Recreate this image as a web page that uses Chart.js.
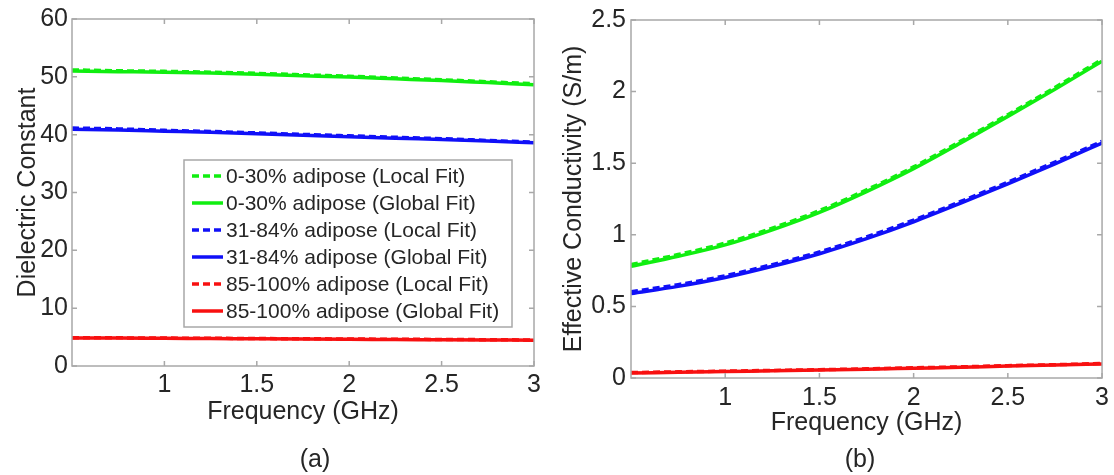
<!DOCTYPE html>
<html>
<head>
<meta charset="utf-8">
<script src="https://cdn.jsdelivr.net/npm/chart.js@4.4.1/dist/chart.umd.min.js"></script>
<style>
  body { margin: 0; background: #fff; }
  #wrap { position: relative; width: 1114px; height: 475px; overflow: hidden; font-family: "Liberation Sans", Arial, sans-serif; color: #262626; }
  canvas { position: absolute; top: 0; }
  #chartA { left: 0; }
  #chartB { left: 548px; }
  .cap { position: absolute; top: 444px; font-size: 25px; width: 60px; text-align: center; }
</style>
</head>
<body>
<div id="wrap">
  <canvas id="chartA" width="548" height="475"></canvas>
  <canvas id="chartB" width="566" height="475"></canvas>
  <div class="cap" style="left:285px">(a)</div>
  <div class="cap" style="left:830px">(b)</div>
</div>
<script>
// frequency points (GHz)
const freqs = [0.5, 0.75, 1, 1.25, 1.5, 1.75, 2, 2.25, 2.5, 2.75, 3];
const xTicks = [1, 1.5, 2, 2.5, 3];

const seriesLabels = [
  "0-30% adipose (Local Fit)",
  "0-30% adipose (Global Fit)",
  "31-84% adipose (Local Fit)",
  "31-84% adipose (Global Fit)",
  "85-100% adipose (Local Fit)",
  "85-100% adipose (Global Fit)"
];

// (a) dielectric constant
const epsLowLocal   = [51.2, 51.05, 50.95, 50.8, 50.6, 50.35, 50.1, 49.8, 49.5, 49.15, 48.8];
const epsLowGlobal  = [51.0, 50.9, 50.8, 50.65, 50.45, 50.2, 49.95, 49.65, 49.35, 49.0, 48.65];
const epsMidLocal   = [41.15, 41.0, 40.75, 40.55, 40.3, 40.05, 39.8, 39.55, 39.3, 39.0, 38.7];
const epsMidGlobal  = [40.95, 40.8, 40.6, 40.4, 40.15, 39.9, 39.65, 39.4, 39.15, 38.9, 38.6];
const epsHighLocal  = [4.9, 4.87, 4.83, 4.79, 4.75, 4.71, 4.67, 4.63, 4.59, 4.55, 4.5];
const epsHighGlobal = [4.85, 4.82, 4.78, 4.74, 4.7, 4.66, 4.62, 4.58, 4.54, 4.5, 4.46];

// (b) effective conductivity (S/m)
const sigLowLocal   = [0.792, 0.862, 0.942, 1.047, 1.169, 1.314, 1.474, 1.654, 1.839, 2.029, 2.224];
const sigLowGlobal  = [0.78, 0.85, 0.93, 1.035, 1.157, 1.302, 1.462, 1.642, 1.827, 2.017, 2.212];
const sigMidLocal   = [0.602, 0.652, 0.714, 0.792, 0.88, 0.985, 1.103, 1.233, 1.368, 1.508, 1.653];
const sigMidGlobal  = [0.59, 0.64, 0.702, 0.78, 0.868, 0.973, 1.091, 1.221, 1.356, 1.496, 1.641];
const sigHighLocal  = [0.038, 0.043, 0.048, 0.053, 0.058, 0.064, 0.071, 0.078, 0.086, 0.093, 0.101];
const sigHighGlobal = [0.035, 0.04, 0.045, 0.05, 0.055, 0.061, 0.068, 0.075, 0.083, 0.09, 0.098];

const colors = ["#10ee10", "#10ee10", "#1010f8", "#1010f8", "#f81010", "#f81010"];
const FONT = "'Liberation Sans', Arial, sans-serif";
const TEXT = "#262626";

function makeDatasets(list) {
  return list.map((vals, i) => ({
    label: seriesLabels[i],
    data: vals.map((v, j) => ({ x: freqs[j], y: v })),
    borderColor: colors[i],
    backgroundColor: colors[i],
    borderWidth: 3.5,
    borderDash: i % 2 === 0 ? [7, 4] : [],
    pointRadius: 0,
    cubicInterpolationMode: "monotone",
    fill: false
  }));
}

// matlab style box with inward ticks
const boxPlugin = {
  id: "matlabBox",
  afterDatasetsDraw(chart) {
    const { ctx, chartArea: a, scales: { x, y } } = chart;
    ctx.save();
    ctx.strokeStyle = "#a8a8a8";
    ctx.lineWidth = 1.5;
    ctx.strokeRect(a.left, a.top, a.right - a.left, a.bottom - a.top);
    ctx.beginPath();
    x.ticks.forEach(t => {
      const px = x.getPixelForValue(t.value);
      ctx.moveTo(px, a.bottom); ctx.lineTo(px, a.bottom - 5);
      ctx.moveTo(px, a.top); ctx.lineTo(px, a.top + 5);
    });
    y.ticks.forEach(t => {
      const py = y.getPixelForValue(t.value);
      ctx.moveTo(a.left, py); ctx.lineTo(a.left + 5, py);
      ctx.moveTo(a.right, py); ctx.lineTo(a.right - 5, py);
    });
    ctx.stroke();
    ctx.restore();
  }
};

// legend box drawn inside the plot, like matlab
const boxLegend = {
  id: "boxLegend",
  afterDraw(chart, args, opts) {
    if (!opts.show) return;
    const { ctx } = chart;
    ctx.save();
    ctx.fillStyle = "#fff";
    ctx.fillRect(opts.x, opts.y, opts.w, opts.h);
    ctx.strokeStyle = "#a8a8a8";
    ctx.lineWidth = 1.5;
    ctx.strokeRect(opts.x, opts.y, opts.w, opts.h);
    ctx.font = "21px " + FONT;
    ctx.textBaseline = "middle";
    chart.data.datasets.forEach((ds, i) => {
      const ry = opts.y + 16 + i * 27;
      ctx.strokeStyle = ds.borderColor;
      ctx.lineWidth = 3.5;
      ctx.setLineDash(ds.borderDash);
      ctx.beginPath();
      ctx.moveTo(opts.x + 8, ry);
      ctx.lineTo(opts.x + 39, ry);
      ctx.stroke();
      ctx.setLineDash([]);
      ctx.fillStyle = TEXT;
      ctx.fillText(ds.label, opts.x + 42, ry + 1);
    });
    ctx.restore();
  }
};

const plainNum = v => String(Number(v.toFixed(3)));

function makeOptions(cfg) {
  return {
    responsive: false,
    animation: false,
    devicePixelRatio: 1,
    layout: { padding: { left: 0, right: cfg.padRight, top: 15, bottom: cfg.padBottom } },
    plugins: {
      legend: { display: false },
      tooltip: { enabled: false },
      boxLegend: cfg.legend || { show: false }
    },
    scales: {
      x: {
        type: "linear",
        min: 0.5,
        max: 3,
        afterBuildTicks: s => { s.ticks = xTicks.map(v => ({ value: v })); },
        afterFit: s => { s.height = cfg.xHeight; },
        grid: { display: false, drawTicks: false },
        border: { display: false },
        ticks: { autoSkip: false, maxRotation: 0, padding: cfg.xPad, color: TEXT, font: { family: FONT, size: 25 }, callback: plainNum },
        title: { display: true, text: "Frequency (GHz)", color: TEXT, padding: 0, font: { family: FONT, size: 25 } }
      },
      y: {
        min: 0,
        max: cfg.yMax,
        afterFit: s => { s.width = cfg.yWidth; },
        grid: { display: false, drawTicks: false },
        border: { display: false },
        ticks: { stepSize: cfg.yStep, padding: cfg.yPad, color: TEXT, font: { family: FONT, size: 25 }, callback: plainNum },
        title: { display: true, text: cfg.yTitle, color: TEXT, padding: { top: cfg.yTitlePad, bottom: 0 }, font: { family: FONT, size: 25 } }
      }
    }
  };
}

new Chart(document.getElementById("chartA"), {
  type: "line",
  data: { datasets: makeDatasets([epsLowLocal, epsLowGlobal, epsMidLocal, epsMidGlobal, epsHighLocal, epsHighGlobal]) },
  options: makeOptions({
    padRight: 14, padBottom: 48, xHeight: 61, xPad: 4,
    yMax: 60, yStep: 10, yWidth: 72, yPad: 4, yTitlePad: 13,
    yTitle: "Dielectric Constant",
    legend: { show: true, x: 184, y: 160, w: 328, h: 167 }
  }),
  plugins: [boxPlugin, boxLegend]
});

new Chart(document.getElementById("chartB"), {
  type: "line",
  data: { datasets: makeDatasets([sigLowLocal, sigLowGlobal, sigMidLocal, sigMidGlobal, sigHighLocal, sigHighGlobal]) },
  options: makeOptions({
    padRight: 9, padBottom: 37, xHeight: 60, xPad: 5,
    yMax: 2.5, yStep: 0.5, yWidth: 83, yPad: 5, yTitlePad: 11,
    yTitle: "Effective Conductivity (S/m)"
  }),
  plugins: [boxPlugin, boxLegend]
});
</script>
</body>
</html>
